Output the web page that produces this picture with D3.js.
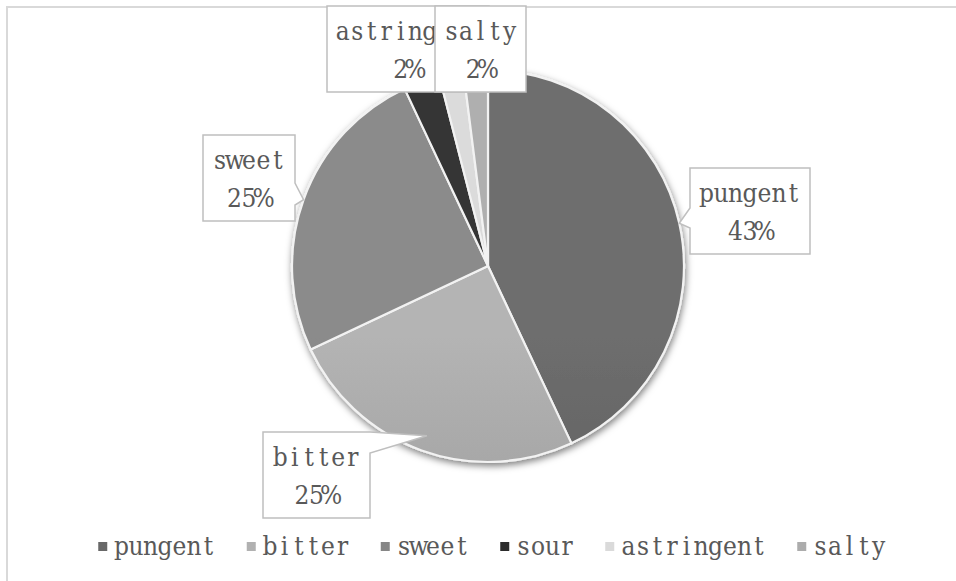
<!DOCTYPE html>
<html>
<head>
<meta charset="utf-8">
<script src="https://cdn.jsdelivr.net/npm/d3@7"></script>
<style>
  html, body { margin: 0; padding: 0; background: #fff; }
  svg { display: block; }
  text { font-family: "DejaVu Serif Condensed", "DejaVu Serif", "Liberation Serif", serif; fill: #595959; }
</style>
</head>
<body>
<svg id="chart" width="956" height="581"></svg>
<script>
// Share of each taste (percent)
const categories = ["pungent", "bitter", "sweet", "sour", "astringent", "salty"];
const values = [43, 25, 25, 3, 2, 2];
const palette = ["#686868", "#b1b1b1", "#868686", "#2c2c2c", "#dadada", "#acacac"];

const W = 956, H = 581;
const cx = 488, cy = 266, R = 196;
const FONT = 26, CHAR = 14.5;   // fixed-pitch cell width

const svg = d3.select("#chart");
const defs = svg.append("defs");

// fixed-pitch text: every glyph centred in its own CHAR-wide cell
function mono(sel, str, x0) {
  const xs = Array.from(str, (_, i) => (x0 + CHAR * (i + 0.5)).toFixed(2)).join(" ");
  return sel.text(str)
    .attr("font-size", FONT)
    .attr("text-anchor", "middle")
    .attr("x", xs);
}

// outer chart frame
svg.append("rect")
  .attr("x", 7).attr("y", 7).attr("width", 980).attr("height", 620)
  .attr("fill", "#fff").attr("stroke", "#d9d9d9").attr("stroke-width", 2);

// soft shadow under the pie
const shadow = defs.append("filter").attr("id", "pieShadow")
  .attr("x", "-20%").attr("y", "-20%").attr("width", "140%").attr("height", "140%");
shadow.append("feDropShadow")
  .attr("dx", 1).attr("dy", 3).attr("stdDeviation", 3.5)
  .attr("flood-color", "#000").attr("flood-opacity", 0.5);

// vertical shading per slice
const color = d3.scaleOrdinal().domain(categories).range(palette);
categories.forEach((c, i) => {
  const g = defs.append("linearGradient").attr("id", "grad" + i)
    .attr("gradientUnits", "userSpaceOnUse")
    .attr("x1", 0).attr("x2", 0).attr("y1", cy - R).attr("y2", cy + R);
  g.append("stop").attr("offset", "0%").attr("stop-color", d3.interpolateRgb(color(c), "#fff")(0.04));
  g.append("stop").attr("offset", "100%").attr("stop-color", d3.interpolateRgb(color(c), "#000")(0.2));
});

const pie = d3.pie().sort(null).value(d => d.v);
const data = categories.map((c, i) => ({ c, v: values[i], i }));
const arcs = pie(data);
const arc = d3.arc().innerRadius(0).outerRadius(R);

const pieG = svg.append("g")
  .attr("transform", `translate(${cx},${cy})`)
  .attr("filter", "url(#pieShadow)");
pieG.selectAll("path").data(arcs).join("path")
  .attr("d", arc)
  .attr("fill", d => `url(#grad${d.data.i})`)
  .attr("stroke", "#f2f2f2")
  .attr("stroke-width", 2.2)
  .attr("stroke-linejoin", "round");

// point on a slice's mid-angle at radius factor f
function tipOf(name, f) {
  const a = arcs.find(d => d.data.c === name);
  const m = (a.startAngle + a.endAngle) / 2;
  return [cx + Math.sin(m) * R * f, cy - Math.cos(m) * R * f];
}

// callout labels
const total = d3.sum(values);
const fmt = v => Math.round(v / total * 100) + "%";
const labels = [
  { name: "astringent", x: 327, y: 6, w: 162, h: 86 },
  { name: "salty", x: 435, y: 6, w: 91, h: 86 },
  { name: "sweet", x: 203, y: 135, w: 92, h: 86, side: "right", b0: 183, b1: 205, f: 1.0 },
  { name: "pungent", x: 690, y: 168, w: 120, h: 86, side: "left", b0: 208, b1: 228, f: 1.0 },
  { name: "bitter", x: 263, y: 432, w: 107, h: 86, side: "right", b0: 432, b1: 453, f: 0.92 }
];

labels.forEach((L, k) => {
  const { x, y, w, h } = L;
  let d;
  if (L.side === "right") {
    const [tx, ty] = tipOf(L.name, L.f);
    d = `M${x},${y}H${x + w}V${L.b0}L${tx},${ty}L${x + w},${L.b1}V${y + h}H${x}Z`;
  } else if (L.side === "left") {
    const [tx, ty] = tipOf(L.name, L.f);
    d = `M${x},${y}H${x + w}V${y + h}H${x}V${L.b1}L${tx},${ty}L${x},${L.b0}Z`;
  } else {
    d = `M${x},${y}H${x + w}V${y + h}H${x}Z`;
  }
  const g = svg.append("g");
  g.append("path").attr("d", d)
    .attr("fill", "#fff").attr("stroke", "#bfbfbf").attr("stroke-width", 1.5);

  const clipId = "clip" + k;
  defs.append("clipPath").attr("id", clipId)
    .append("rect").attr("x", x).attr("y", y).attr("width", w).attr("height", h);
  const tg = g.append("g").attr("clip-path", `url(#${clipId})`);
  const i = categories.indexOf(L.name);
  [L.name, fmt(values[i])].forEach((t, j) => {
    const s = t.length * CHAR;
    mono(tg.append("text"), t, x + w / 2 - s / 2)
      .attr("y", y + 34 + j * 38);
  });
});

// legend
const legend = svg.append("g");
const items = categories.map(c => {
  const g = legend.append("g");
  g.append("rect").attr("width", 9).attr("height", 9).attr("y", -13)
    .attr("fill", color(c));
  mono(g.append("text"), c, 16);
  return { g, w: 16 + c.length * CHAR };
});
const gap = 31;
const totalW = d3.sum(items, d => d.w) + gap * (items.length - 1);
let lx = 492 - totalW / 2;
items.forEach(it => {
  it.g.attr("transform", `translate(${lx},555)`);
  lx += it.w + gap;
});
</script>
</body>
</html>
